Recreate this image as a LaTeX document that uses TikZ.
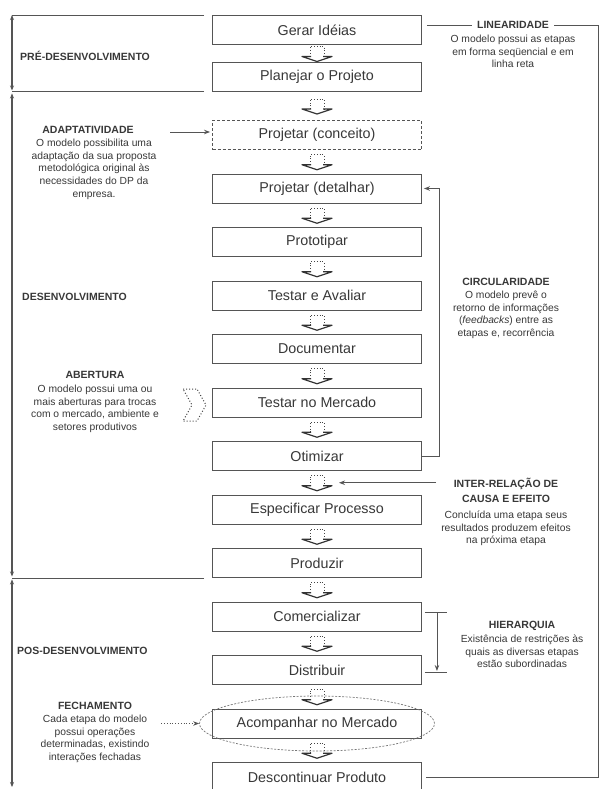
\documentclass[tikz,border=0pt]{standalone}
\usepackage{fontspec}
\setmainfont{Liberation Sans}
\usetikzlibrary{calc,arrows.meta,shapes.geometric}

\definecolor{ink}{HTML}{383838}
\definecolor{rule}{HTML}{555555}

\tikzset{
  stagebox/.style={draw=rule, line width=0.9pt, minimum width=209pt, minimum height=29pt,
    inner sep=0pt, font=\fontsize{14.3}{16}\selectfont, text=ink},
  dashedstage/.style={stagebox, dash pattern=on 3pt off 2pt},
  headline/.style={font=\bfseries\fontsize{10.5}{15}\selectfont, text=ink, align=center},
  notetext/.style={font=\fontsize{10.3}{12.6}\selectfont, text=ink, align=center, inner sep=0pt},
  phase/.style={font=\bfseries\fontsize{10.5}{12}\selectfont, text=ink, anchor=west, inner sep=0pt},
  wire/.style={draw=rule, line width=0.9pt},
  headed/.style={-{Stealth[length=6pt,width=4.5pt]}},
  stagearrow/.pic={
    \draw[rule!80!black, line width=0.8pt, dotted] (-7,3) -- (-7,-7) -- (7,-7) -- (7,3);
    \draw[rule!60!black, line width=1.2pt, line join=round] (-6,3) -- (-15,3) -- (0,8) -- (15,3) -- (6,3);
  }
}

\begin{document}
\begin{tikzpicture}[x=1pt,y=-1pt]
\useasboundingbox (0,0) rectangle (602,789);
\fill[white] (0,0) rectangle (602,789);

% stages of the process
\node[stagebox] (gerar)   at (317,30)    {Gerar Idéias};
\node[stagebox] (planejar) at (317,77)   {Planejar o Projeto};
\node[dashedstage] (conceito) at (317,135) {Projetar (conceito)};
\node[stagebox] (detalhar) at (317,188.5) {Projetar (detalhar)};
\node[stagebox] (proto)   at (317,242)   {Prototipar};
\node[stagebox] (testar)  at (317,295.5) {Testar e Avaliar};
\node[stagebox] (doc)     at (317,349)   {Documentar};
\node[stagebox] (mercado) at (317,402.5) {Testar no Mercado};
\node[stagebox] (otim)    at (317,456)   {Otimizar};
\node[stagebox] (espec)   at (317,509.5) {Especificar Processo};
\node[stagebox] (produzir) at (317,563)  {Produzir};
\node[stagebox] (comerc)  at (317,616.5) {Comercializar};
\node[stagebox] (distrib) at (317,670)   {Distribuir};
\node[stagebox] (acomp)   at (317,723.5) {Acompanhar no Mercado};
\node[stagebox] (descont) at (317,777)   {Descontinuar Produto};

% block arrows between consecutive stages
\foreach \a/\b in {gerar/planejar, planejar/conceito, conceito/detalhar, detalhar/proto,
                   proto/testar, testar/doc, doc/mercado, mercado/otim, otim/espec,
                   espec/produzir, produzir/comerc, comerc/distrib, distrib/acomp, acomp/descont}
  \path ($(\a.south)!0.5!(\b.north)$) pic {stagearrow};

% closed loop around market follow-up
\node[ellipse, draw=rule!80, line width=0.7pt, dash pattern=on 2pt off 1.5pt,
      minimum width=235pt, minimum height=55pt] (loop) at (acomp) {};

% phase brackets on the left
\coordinate (lx) at (12,0);
\coordinate (lend) at (12,787);
\draw[wire] ($(gerar.north west)+(-8,0)$) -- (lx |- gerar.north);
\draw[wire] ($(planejar.south west)+(-8,0)$) -- (lx |- planejar.south);
\draw[wire] ($(produzir.south west)+(-8,0)$) -- (lx |- produzir.south);
\draw[wire, line width=1.1pt, {Stealth[length=5pt,width=4pt]}-{Stealth[length=5pt,width=4pt]}]
  (lx |- gerar.north) -- ($(lx |- planejar.south)+(0,-1.5)$);
\draw[wire, line width=1.1pt, {Stealth[length=5pt,width=4pt]}-{Stealth[length=5pt,width=4pt]}]
  ($(lx |- planejar.south)+(0,1.5)$) -- ($(lx |- produzir.south)+(0,-1.5)$);
\draw[wire, line width=1.1pt, {Stealth[length=5pt,width=4pt]}-{Stealth[length=5pt,width=4pt]}]
  ($(lx |- produzir.south)+(0,1.5)$) -- (lend);

\node[phase] (pre)  at (20,56)  {PRÉ-DESENVOLVIMENTO};
\node[phase] (dev)  at (22,297) {DESENVOLVIMENTO};
\node[phase] (post) at (17,651) {POS-DESENVOLVIMENTO};

% linearity: bracket on the right
\coordinate (rx) at (598,0);
\node[headline] (linT) at (513,25) {LINEARIDADE};
\node[notetext, anchor=north] (linN) at (513,35)
  {O modelo possui as etapas\\em forma seqüencial e em\\linha reta};
\draw[wire] ($(gerar.east)+(5,-5)$) -- ($(linT.west)+(-2,0)$);
\draw[wire] ($(linT.east)+(2,0)$) -- (rx |- linT) -- (rx |- descont) -- ($(descont.east)+(4,0)$);

% adaptivity
\node[headline] (adaT) at (88,130) {ADAPTATIVIDADE};
\node[notetext, anchor=north] (adaN) at (94,139)
  {O modelo possibilita uma\\adaptação da sua proposta\\metodológica original às\\necessidades do DP da\\empresa.};
\coordinate (adaFrom) at ($(conceito.west)+(-42,-3)$);
\draw[wire, headed] (adaFrom) -- ($(conceito.west)+(-2,-3)$);

% circularity: feedback loop
\draw[wire, headed, shorten >=2pt] (otim.east) -- ++(17,0) |- (detalhar.east);
\node[headline] (cirT) at (506,282) {CIRCULARIDADE};
\node[notetext, anchor=north] (cirN) at (506,291)
  {O modelo prevê o\\retorno de informações\\(\textit{feedbacks}) entre as\\etapas e, recorrência};

% openness
\node[headline] (abeT) at (95,375) {ABERTURA};
\node[notetext, anchor=north] (abeN) at (95,385)
  {O modelo possui uma ou\\mais aberturas para trocas\\com o mercado, ambiente e\\setores produtivos};
\draw[rule!80!black, line width=1pt, dotted, line join=round]
  (183,389) -- (197,389) -- (206,405) -- (197,421) -- (183,421) -- (192,405) -- cycle;

% cause and effect
\coordinate (ceHit) at ($(otim.south)!0.5!(espec.north)+(22,0)$);
\coordinate (ceFrom) at ($(ceHit)+(97,0)$);
\draw[wire, headed] (ceFrom) -- (ceHit);
\node[headline, anchor=north] (ceT) at (506,475) {INTER-RELAÇÃO DE\\CAUSA E EFEITO};
\node[notetext, anchor=north] (ceN) at (506,511)
  {Concluída uma etapa seus\\resultados produzem efeitos\\na próxima etapa};

% hierarchy
\coordinate (hTop) at ($(comerc.east)+(3,-4)$);
\coordinate (hBot) at ($(distrib.east)+(3,2)$);
\draw[wire] (hTop) -- ++(22,0);
\draw[wire] (hBot) -- ++(22,0);
\draw[wire, headed] ($(hTop)+(12,0)$) -- ($(hBot)+(12,-1)$);
\node[headline] (hieT) at (522,626) {HIERARQUIA};
\node[notetext, anchor=north] (hieN) at (522,635)
  {Existência de restrições às\\quais as diversas etapas\\estão subordinadas};

% closure
\node[headline] (fecT) at (95,706) {FECHAMENTO};
\node[notetext, anchor=north] (fecN) at (95,715)
  {Cada etapa do modelo\\possui operações\\determinadas, existindo\\interações fechadas};
\coordinate (fecFrom) at ($(loop.west)+(-38,0)$);
\draw[rule, line width=0.8pt, dotted, headed] (fecFrom) -- (loop.west);

\end{tikzpicture}
\end{document}
